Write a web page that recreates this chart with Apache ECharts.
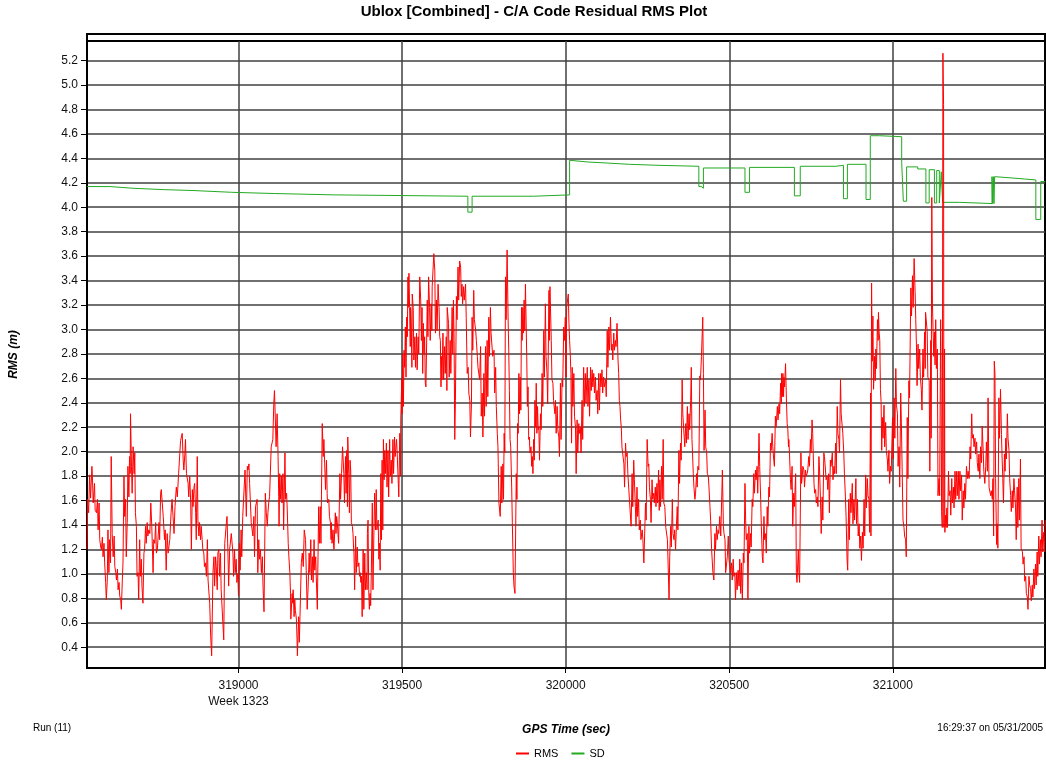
<!DOCTYPE html>
<html>
<head>
<meta charset="utf-8">
<script src="https://cdn.jsdelivr.net/npm/echarts@6/dist/echarts.min.js"></script>
<style>
html,body{margin:0;padding:0;background:#fff;}
#chart{width:1046px;height:765px;}
</style>
</head>
<body>
<div id="chart"></div>
<script>
const titleText = 'Ublox [Combined] - C/A Code Residual RMS Plot';
const yAxisName = 'RMS (m)';
const xAxisName = 'GPS Time (sec)';
const runText = 'Run (11)';
const stampText = '16:29:37 on 05/31/2005';
const weekText = 'Week 1323';
const seriesNames = ['RMS', 'SD'];

const xMin = 318537, xMax = 321465;
const yMin = 0.23, yMax = 5.36;
const xTicks = [319000, 319500, 320000, 320500, 321000];
const yTicks = [0.4,0.6,0.8,1.0,1.2,1.4,1.6,1.8,2.0,2.2,2.4,2.6,2.8,3.0,3.2,3.4,3.6,3.8,4.0,4.2,4.4,4.6,4.8,5.0,5.2];

// SD: step changes [time, value]
const sdSteps = [
[318537,4.169],[318607,4.155],[318678,4.144],[318770,4.136],[318867,4.122],[318979,4.112],
[319111,4.101],[319294,4.090],[319701,3.96],[319714,4.090],[319902,4.101],[320012,4.384],
[320017,4.370],[320068,4.362],[320124,4.351],[320195,4.343],[320282,4.335],[320407,4.17],
[320414,4.155],[320421,4.321],[320548,4.122],[320562,4.326],[320699,4.093],[320717,4.335],
[320826,4.343],[320849,4.07],[320861,4.351],[320918,4.063],[320931,4.585],[320959,4.577],
[321027,4.367],[321032,4.049],[321042,4.330],[321076,4.313],[321101,4.035],[321111,4.307],
[321127,4.035],[321134,4.300],[321142,4.035],[321148,4.29],[321152,4.040],[321203,4.030],
[321303,4.25],[321305,4.03],[321307,4.25],[321309,4.03],[321311,4.25],[321315,4.240],
[321361,4.231],[321402,4.223],[321437,3.90],[321452,4.21],[321466,4.21]
];

// RMS samples [time, value]
const rmsSamples = [
[318537,1.20],[318539,1.61],[318542,1.50],[318545,1.81],[318548,1.62],[318552,1.88],[318554,1.76],[318556,1.58],
[318560,1.74],[318562,1.52],[318566,1.50],[318569,1.61],[318571,1.36],[318574,1.58],[318576,1.28],[318579,1.22],
[318581,1.20],[318584,1.30],[318586,1.14],[318589,1.25],[318591,1.09],[318594,0.93],[318596,0.79],[318599,0.95],
[318601,1.36],[318604,1.01],[318606,1.28],[318609,1.09],[318611,1.96],[318614,1.33],[318617,1.14],[318620,1.31],
[318622,1.06],[318625,1.01],[318627,0.95],[318630,1.04],[318632,0.87],[318635,0.93],[318637,0.82],[318640,0.79],
[318642,0.71],[318645,0.95],[318647,1.09],[318650,1.80],[318652,1.47],[318655,1.61],[318657,1.14],[318660,1.42],
[318662,1.88],[318665,1.63],[318667,1.96],[318669,1.82],[318670,2.31],[318673,1.88],[318675,1.66],[318678,2.04],
[318681,1.82],[318683,1.99],[318685,1.50],[318688,1.39],[318690,0.98],[318693,1.01],[318695,0.79],[318698,1.28],
[318700,0.98],[318703,1.12],[318705,0.90],[318708,0.76],[318711,1.17],[318713,1.20],[318716,1.39],[318718,1.25],
[318721,1.42],[318723,1.31],[318726,1.36],[318729,1.33],[318732,1.58],[318735,1.39],[318739,1.01],[318741,1.28],
[318744,1.25],[318747,1.42],[318749,1.17],[318752,1.20],[318754,1.20],[318757,1.42],[318759,1.28],[318762,1.66],
[318764,1.69],[318767,1.69],[318770,1.47],[318774,1.28],[318776,1.36],[318779,1.03],[318782,1.33],[318785,1.17],
[318788,1.17],[318790,1.28],[318794,1.50],[318797,1.61],[318800,1.47],[318803,1.33],[318806,1.55],[318810,1.71],
[318813,1.63],[318817,1.82],[318820,1.82],[318823,2.09],[318825,2.10],[318828,2.15],[318831,1.93],[318833,1.85],
[318836,1.98],[318838,2.10],[318841,1.82],[318844,1.82],[318846,1.74],[318848,1.63],[318851,1.80],[318854,1.58],
[318856,1.20],[318859,1.69],[318861,1.55],[318864,1.71],[318866,1.74],[318869,1.50],[318871,1.28],[318874,1.96],
[318876,1.44],[318879,1.31],[318881,1.42],[318884,1.28],[318886,1.39],[318889,1.28],[318891,1.20],[318894,1.17],
[318896,1.06],[318899,1.09],[318902,0.98],[318905,1.28],[318907,0.95],[318912,0.76],[318915,0.49],[318918,0.33],
[318922,1.01],[318925,1.14],[318927,0.90],[318930,1.14],[318932,1.06],[318935,0.87],[318937,1.17],[318940,1.20],
[318942,0.98],[318945,1.17],[318947,0.87],[318950,0.87],[318955,0.46],[318958,1.25],[318960,1.25],[318963,1.42],
[318965,1.47],[318968,1.14],[318970,0.90],[318973,1.20],[318975,1.20],[318978,1.33],[318980,1.33],[318983,1.17],
[318985,0.98],[318988,1.20],[318990,1.01],[318993,1.12],[318995,0.93],[318998,1.00],[319000,0.82],[319003,1.25],
[319005,1.03],[319008,1.36],[319010,1.14],[319013,1.47],[319016,1.47],[319020,1.85],[319024,1.47],[319027,1.88],
[319029,1.85],[319032,1.90],[319034,1.74],[319037,1.74],[319039,1.42],[319042,1.42],[319044,1.31],[319047,1.47],
[319049,1.14],[319052,1.55],[319054,1.55],[319057,1.61],[319059,1.01],[319062,1.28],[319064,1.12],[319067,1.20],
[319070,1.01],[319073,1.14],[319075,0.90],[319078,0.69],[319082,1.66],[319085,1.50],[319088,1.39],[319090,1.50],
[319093,1.60],[319095,1.63],[319100,2.04],[319105,2.10],[319108,2.40],[319110,2.50],
[319113,2.50],[319115,2.04],[319118,2.31],[319121,1.96],[319123,1.63],[319124,1.39],[319126,1.82],[319128,1.61],
[319131,1.80],[319133,1.58],[319136,1.82],[319138,1.36],[319142,1.99],[319144,1.61],[319147,1.66],[319149,1.53],
[319152,1.25],[319154,1.14],[319157,1.01],[319159,0.84],[319160,0.63],[319164,0.84],[319166,0.76],[319167,0.87],
[319170,0.65],[319172,0.79],[319174,0.70],[319177,0.63],[319179,0.46],[319180,0.33],[319184,0.65],[319186,0.44],
[319188,0.65],[319192,1.09],[319195,1.17],[319198,1.06],[319201,1.36],[319205,1.28],[319207,1.03],[319210,0.71],
[319213,0.90],[319216,1.17],[319218,1.01],[319221,1.28],[319223,0.95],[319226,1.14],[319228,0.93],[319231,1.28],
[319233,1.03],[319236,1.14],[319238,0.95],[319241,0.71],[319245,1.55],[319247,1.25],[319250,1.55],[319252,1.25],
[319256,2.23],[319259,1.96],[319261,2.10],[319264,2.09],[319266,1.69],[319269,1.93],[319271,1.66],[319272,1.58],
[319276,1.61],[319278,1.47],[319281,1.42],[319283,1.28],[319284,1.42],[319286,1.25],[319289,1.36],[319291,1.22],
[319292,1.20],[319296,1.50],[319298,1.33],[319300,1.47],[319302,1.42],[319304,1.42],[319306,1.25],[319310,1.82],
[319312,1.61],[319315,1.82],[319318,2.04],[319322,1.82],[319324,1.58],[319327,1.96],[319329,1.66],[319331,2.01],
[319333,1.55],[319334,2.12],[319337,1.82],[319339,1.50],[319341,1.93],[319343,1.85],[319345,1.42],[319348,1.39],
[319350,1.33],[319352,1.20],[319353,1.17],[319355,0.87],[319358,1.31],[319360,1.01],[319363,1.22],[319365,1.06],
[319368,1.09],[319370,0.98],[319372,1.01],[319374,0.93],[319376,0.98],[319378,0.65],[319381,1.20],[319383,0.71],
[319386,1.17],[319388,0.87],[319391,1.01],[319393,0.87],[319394,1.33],[319396,1.44],[319398,0.87],[319400,0.71],
[319402,0.84],[319404,0.74],[319406,1.01],[319409,1.58],[319411,0.87],[319414,1.36],[319416,1.66],[319419,1.36],
[319421,1.69],[319423,1.36],[319427,1.44],[319429,1.12],[319431,1.25],[319433,1.03],[319435,1.82],[319437,1.28],
[319439,1.93],[319441,1.36],[319443,2.10],[319445,1.77],[319447,2.01],[319449,1.82],[319452,2.07],[319454,1.71],
[319457,2.01],[319459,1.63],[319462,2.10],[319464,1.80],[319467,1.93],[319469,1.74],[319472,2.10],[319474,1.82],
[319477,2.12],[319479,1.96],[319483,2.10],[319485,1.99],[319488,1.99],[319490,1.63],[319493,2.15],[319495,1.80],
[319496,2.26],[319499,2.59],[319500,2.31],[319502,2.80],[319504,2.37],[319506,2.83],[319508,2.69],[319510,3.02],
[319512,2.61],[319514,3.10],[319516,2.94],[319518,3.43],[319519,3.18],[319521,3.46],[319523,3.18],[319525,2.86],
[319526,3.18],[319528,3.05],[319530,2.69],[319531,3.29],[319534,3.18],[319536,2.75],[319539,2.94],[319541,2.69],
[319544,2.97],[319546,2.67],[319549,2.94],[319551,2.80],[319554,3.43],[319557,3.24],[319559,2.91],[319561,3.18],
[319563,2.64],[319565,3.05],[319567,2.80],[319569,2.94],[319571,2.56],[319573,2.53],[319577,3.24],[319579,2.94],
[319581,3.43],[319584,3.18],[319586,2.91],[319589,3.21],[319591,2.99],[319592,3.35],[319597,3.62],[319600,3.48],
[319602,2.97],[319605,3.24],[319607,2.99],[319610,3.37],[319612,3.24],[319613,3.18],[319615,2.94],[319617,2.91],
[319619,2.53],[319620,2.78],[319622,2.59],[319625,2.97],[319627,2.59],[319630,2.86],[319632,2.64],[319635,2.94],
[319637,2.50],[319638,3.18],[319642,3.05],[319644,2.61],[319647,2.91],[319649,2.64],[319653,3.18],[319655,2.80],
[319657,3.24],[319659,2.91],[319661,2.10],[319663,2.42],[319666,3.27],[319668,3.08],[319671,3.51],[319673,3.24],
[319676,3.56],[319679,3.51],[319681,3.27],[319683,3.37],[319685,3.21],[319688,3.35],[319690,3.24],
[319694,3.37],[319696,3.10],[319699,2.64],[319702,2.69],[319704,2.48],[319707,2.42],[319709,2.12],[319712,2.39],
[319714,3.10],[319716,2.83],[319719,3.32],[319721,3.08],[319725,2.99],[319727,2.91],[319730,2.78],[319732,2.69],
[319735,2.69],[319737,2.59],[319740,2.86],[319742,2.29],[319745,2.48],[319747,2.12],[319750,2.64],[319752,2.29],
[319755,2.86],[319757,2.37],[319760,2.91],[319762,2.45],[319765,3.10],[319767,2.78],[319770,3.18],[319772,2.97],
[319775,2.97],[319777,2.78],[319781,2.83],[319783,2.48],[319786,2.69],[319788,2.37],[319791,2.15],[319793,2.04],
[319794,1.90],[319796,1.58],[319798,1.58],[319800,1.47],[319803,1.88],[319805,1.58],[319808,1.90],[319810,1.61],
[319812,2.15],[319814,1.99],[319816,3.43],[319818,3.08],[319821,3.65],[319824,3.10],[319826,2.83],[319828,2.50],
[319830,2.10],[319832,2.04],[319835,1.71],[319837,1.42],[319840,1.01],[319842,0.90],[319845,0.84],[319849,1.82],
[319851,1.61],[319853,2.23],[319855,2.15],[319857,2.64],[319859,2.31],[319861,2.61],[319863,2.34],[319865,3.18],
[319867,2.91],[319869,3.18],[319871,2.97],[319873,3.24],[319875,2.99],[319877,3.37],[319881,2.78],[319883,2.37],
[319885,2.53],[319887,2.10],[319889,2.12],[319891,1.99],[319894,2.04],[319896,1.88],[319898,1.96],[319900,1.82],
[319902,2.10],[319904,1.93],[319906,2.42],[319908,2.20],[319910,2.56],[319912,2.15],[319914,2.37],[319916,2.18],
[319918,2.20],[319920,1.93],[319923,2.31],[319925,2.18],[319928,2.64],[319930,2.37],[319933,2.99],[319935,2.61],
[319938,3.21],[319940,2.78],[319943,2.64],[319945,2.39],[319949,3.32],[319950,2.91],[319952,3.35],[319956,2.91],
[319958,2.59],[319961,2.56],[319963,2.42],[319965,2.42],[319967,2.31],[319969,2.42],[319971,2.15],[319974,2.37],
[319976,2.18],[319979,2.12],[319981,1.96],[319984,2.56],[319986,2.10],[319989,2.59],[319991,2.53],[319994,3.02],
[319996,2.91],[319999,3.10],[320001,2.61],[320003,3.18],[320008,3.29],[320010,3.05],[320012,2.91],[320014,2.80],
[320016,2.64],[320018,2.07],[320020,2.69],[320022,2.37],[320025,2.64],[320027,2.29],[320030,2.20],[320032,1.82],
[320035,2.26],[320037,1.99],[320040,2.23],[320042,2.15],[320045,2.20],[320047,1.99],[320050,2.42],[320052,2.10],
[320055,2.69],[320057,2.37],[320060,2.64],[320062,2.40],[320066,2.69],[320068,2.37],[320071,2.59],[320073,2.29],
[320076,2.69],[320078,2.50],[320081,2.67],[320083,2.53],[320086,2.64],[320088,2.48],[320091,2.61],[320093,2.42],
[320096,2.50],[320098,2.31],[320101,2.64],[320103,2.34],[320106,2.64],[320108,2.53],[320111,2.67],[320113,2.48],
[320116,2.61],[320118,2.53],[320122,2.59],[320124,2.45],[320127,2.99],[320129,2.69],[320132,3.02],[320134,2.83],
[320137,3.10],[320140,2.83],[320142,2.88],[320144,2.75],[320147,2.97],[320149,2.83],[320152,2.91],[320154,2.86],
[320157,3.05],[320160,2.75],[320162,2.64],[320164,2.42],[320166,2.37],[320168,2.26],[320170,2.20],[320172,2.04],
[320174,1.99],[320178,1.90],[320180,1.71],[320183,2.07],[320185,1.96],[320188,1.99],[320190,1.82],[320193,1.69],
[320195,1.60],[320198,1.61],[320200,1.39],[320203,1.82],[320205,1.55],[320208,1.93],[320210,1.77],[320213,1.55],
[320215,1.39],[320218,1.71],[320220,1.47],[320223,1.61],[320225,1.36],[320228,1.44],[320230,1.28],[320234,1.36],
[320236,1.28],[320239,1.09],[320244,1.58],[320246,1.44],[320249,2.10],[320252,1.88],[320254,1.90],[320256,1.71],
[320259,1.61],[320261,1.42],[320264,1.77],[320266,1.61],[320269,1.66],[320271,1.58],[320274,1.71],[320276,1.55],
[320279,1.74],[320281,1.58],[320284,1.85],[320286,1.52],
[320288,1.77],[320290,1.55],[320293,1.88],[320295,1.61],[320298,2.10],[320300,1.58],[320303,1.55],[320306,1.38],
[320308,1.39],[320311,1.28],[320316,0.79],[320318,1.14],[320321,1.39],[320323,1.22],[320326,1.61],[320328,1.33],
[320331,1.28],[320333,1.36],[320336,1.20],[320338,1.36],[320341,1.55],[320343,1.36],[320346,2.01],[320348,1.74],
[320351,2.07],[320353,1.93],[320356,2.59],[320358,2.31],[320362,2.31],[320364,2.04],[320367,2.23],[320369,2.07],
[320372,2.37],[320374,2.10],[320377,2.31],[320379,2.18],[320382,2.42],[320384,2.69],[320386,2.10],[320387,2.04],
[320390,1.82],[320392,1.71],[320395,1.61],[320397,1.66],[320400,1.82],[320402,1.71],[320404,1.88],[320407,1.85],
[320410,2.62],[320412,2.59],[320415,2.78],[320419,3.10],[320421,2.64],[320423,2.01],[320426,2.34],[320428,2.04],
[320431,1.99],[320433,1.82],[320436,1.80],[320438,1.71],[320441,1.55],[320443,1.44],[320446,1.20],[320448,1.20],
[320450,1.01],[320453,0.95],[320456,1.33],[320458,1.20],[320461,1.39],[320463,1.28],[320466,1.36],[320468,1.33],
[320471,1.47],[320474,1.31],[320479,1.85],[320482,1.39],[320484,1.33],[320487,1.28],[320489,1.01],[320492,1.09],
[320494,1.14],[320497,1.31],[320499,1.12],[320502,1.12],[320504,1.01],[320507,1.09],[320509,0.95],[320512,1.12],
[320514,0.98],[320517,1.01],[320519,0.79],[320522,1.01],[320524,0.87],[320527,1.03],[320530,0.90],[320532,1.12],
[320535,0.84],[320537,1.09],[320540,0.79],[320543,1.17],[320545,1.09],[320548,1.74],[320550,1.44],[320552,1.28],
[320555,1.33],[320557,0.79],[320560,1.39],[320562,1.17],[320565,1.33],[320567,1.22],[320570,1.61],[320572,1.55],
[320575,1.82],[320577,1.66],[320580,1.85],[320582,1.77],[320585,1.88],[320587,1.66],[320591,2.15],[320593,1.88],
[320596,1.61],[320598,1.39],[320601,1.14],[320603,1.09],[320606,1.47],[320608,1.28],[320611,1.33],[320613,1.17],
[320616,1.55],[320618,1.39],[320621,1.71],[320623,1.63],[320626,2.07],[320628,2.01],[320631,2.15],[320633,2.04],
[320636,1.93],[320638,1.88],[320641,2.29],[320643,2.20],[320647,2.37],[320649,2.26],[320652,2.39],[320654,2.31],
[320657,2.56],[320659,2.39],[320660,2.64],[320662,2.45],[320664,2.64],[320666,2.45],[320667,2.61],[320669,2.53],
[320672,2.72],[320675,2.39],[320677,2.23],[320679,2.18],[320681,2.04],[320682,2.10],[320684,1.99],[320687,1.77],
[320689,1.69],[320692,1.88],[320694,1.39],[320697,1.66],[320699,1.55],[320703,1.82],[320705,1.01],[320707,0.93],
[320709,0.92],[320711,1.20],[320713,1.01],[320715,0.93],[320719,1.99],[320721,1.74],[320723,1.80],[320725,1.88],
[320728,1.85],[320730,1.71],[320733,1.85],[320735,1.80],[320738,1.82],[320740,1.85],[320743,1.96],[320745,1.88],
[320748,2.10],[320750,1.99],[320753,2.26],[320755,2.15],[320759,1.74],[320761,1.66],[320764,1.69],[320766,1.58],
[320769,1.63],[320771,1.55],[320774,1.96],[320776,1.85],[320779,1.58],[320781,1.33],[320784,1.63],[320786,1.44],
[320789,1.99],[320791,1.96],[320794,1.85],[320796,1.77],[320799,1.80],[320801,1.69],[320804,1.82],[320806,1.50],
[320809,1.93],[320811,1.88],[320815,1.99],[320817,1.77],[320820,1.88],[320822,1.82],[320825,2.07],[320827,1.82],
[320830,2.37],[320832,2.15],[320835,2.10],[320837,1.99],[320840,2.59],[320842,2.31],[320845,2.31],[320847,2.15],
[320850,1.99],[320852,1.82],[320855,1.63],[320857,1.47],[320860,1.12],[320862,1.03],[320865,1.61],[320867,1.28],
[320870,1.66],[320872,1.50],
[320876,1.74],[320878,1.41],[320881,1.61],[320883,1.44],[320887,1.78],[320889,1.41],[320892,1.61],[320894,1.31],
[320897,1.41],[320899,1.21],[320902,1.31],[320904,1.11],[320907,1.34],[320909,1.21],[320912,1.61],[320914,1.31],
[320917,1.81],[320919,1.54],[320922,1.78],[320924,1.64],[320927,1.61],[320929,1.34],[320932,2.48],[320933,1.31],
[320935,3.38],[320937,2.74],[320939,3.11],[320941,2.51],[320944,2.78],[320946,2.58],[320948,2.84],[320950,2.68],
[320953,3.08],[320955,2.91],[320956,3.14],[320958,2.98],[320960,2.91],[320962,2.51],[320964,2.41],[320966,2.01],
[320968,2.28],[320970,2.11],[320973,2.38],[320975,2.04],[320978,2.24],[320980,2.01],[320983,1.94],[320985,1.84],
[320988,2.01],[320990,1.74],[320993,1.88],[320995,1.84],[320999,2.28],[321001,1.94],[321004,2.44],[321006,2.11],
[321009,2.68],[321011,2.38],[321014,2.31],[321016,1.88],[321019,2.04],[321021,1.71],[321024,2.48],[321026,2.24],
[321029,2.24],[321031,1.44],[321034,1.38],[321036,1.31],[321039,1.28],[321041,1.14],[321044,2.28],[321046,1.78],
[321049,2.58],[321051,2.44],[321055,3.34],[321057,3.11],[321060,3.44],[321062,3.18],[321065,3.58],[321068,3.31],
[321070,3.08],[321072,2.88],[321074,2.54],[321077,2.88],[321079,2.68],[321082,2.84],[321084,2.61],[321087,2.51],
[321089,2.34],[321092,2.84],[321094,2.61],[321097,2.98],[321099,2.68],[321100,3.14],[321105,2.98],[321107,2.61],
[321111,2.58],[321113,1.84],[321116,2.91],[321117,2.11],[321119,4.08],[321121,3.21],[321123,2.98],[321125,2.78],
[321127,2.98],[321129,2.71],[321131,3.08],[321133,2.68],[321136,2.84],[321138,1.64],[321141,1.78],[321143,1.64],
[321146,3.08],[321147,2.84],[321149,1.51],[321151,1.38],[321153,5.26],[321155,4.84],[321156,1.38],[321158,2.84],
[321159,1.34],[321161,1.48],[321163,1.38],[321165,1.54],[321167,1.38],[321170,1.84],[321172,1.64],[321175,1.68],
[321177,1.48],[321180,1.78],[321182,1.58],[321185,1.71],[321187,1.54],[321190,1.84],[321192,1.61],[321195,1.84],
[321197,1.64],[321200,1.84],[321202,1.61],[321205,1.84],[321207,1.68],[321210,1.81],[321212,1.44],[321215,1.68],
[321217,1.54],[321220,1.74],[321222,1.61],[321225,1.88],[321228,1.78],[321230,1.84],[321233,1.78],[321236,2.04],
[321238,1.94],[321241,2.31],[321243,2.11],[321246,2.14],[321248,2.04],[321251,2.11],[321253,1.98],[321256,2.08],
[321258,1.91],[321261,1.84],[321263,1.98],[321266,1.78],[321268,2.04],[321271,1.91],[321273,2.21],[321276,2.01],
[321278,1.84],[321281,1.74],[321284,1.88],[321286,2.08],[321289,1.84],[321291,2.44],[321294,1.71],[321297,1.71],
[321299,1.64],[321301,1.68],[321304,1.61],[321306,1.78],[321308,1.31],[321310,2.74],[321312,2.64],[321314,1.78],
[321317,1.24],[321319,1.41],[321321,1.21],[321324,2.44],[321326,2.11],[321329,2.51],[321332,2.14],[321334,1.94],
[321336,1.78],[321338,1.58],[321341,1.98],[321343,1.84],[321345,2.11],[321347,1.94],[321350,2.31],[321352,2.11],
[321355,2.01],[321357,1.78],[321360,1.64],[321362,1.51],[321365,1.68],[321367,1.54],[321370,1.78],[321372,1.68],
[321375,1.54],[321377,1.28],[321380,1.71],[321382,1.38],[321385,1.78],[321387,1.44],[321390,1.94],[321392,1.21],
[321396,1.18],[321398,1.08],[321401,1.14],[321403,0.94],[321406,0.98],[321408,0.84],[321411,0.81],[321413,0.71],
[321416,0.98],[321418,0.91],[321421,0.88],[321423,0.78],[321426,0.91],[321428,0.81],[321431,1.04],[321433,0.88],
[321436,1.08],[321438,0.91],[321441,1.18],[321443,0.98],[321446,1.31],[321448,1.08],[321451,1.28],[321453,1.14],
[321456,1.44],[321458,1.18],[321461,1.34],[321463,1.18],[321466,1.44]
];

const FONT = 'Liberation Sans, Arial, sans-serif';
const chart = echarts.init(document.getElementById('chart'), null, {renderer: 'canvas'});
const gridLeft = 87, gridRight = 1046 - 1045, gridTop = 41, gridBottom = 765 - 668;

chart.setOption({
  animation: false,
  backgroundColor: '#ffffff',
  textStyle: {fontFamily: FONT},
  grid: {left: gridLeft, right: gridRight, top: gridTop, bottom: gridBottom,
         show: true, borderColor: '#000', borderWidth: 2, backgroundColor: 'transparent'},
  legend: {
    data: seriesNames, left: 516, top: 748, icon: 'rect', itemWidth: 13, itemHeight: 2,
    itemGap: 13, textStyle: {fontFamily: FONT, fontSize: 11, color: '#000'}, padding: 0
  },
  xAxis: {
    type: 'value', min: xMin, max: xMax,
    name: xAxisName, nameLocation: 'middle', nameGap: 56,
    nameTextStyle: {fontFamily: FONT, fontSize: 12, fontWeight: 'bold', fontStyle: 'italic', color: '#000'},
    axisLine: {show: true, lineStyle: {color: '#000', width: 2}},
    axisTick: {show: true, inside: false, length: 5, customValues: xTicks, lineStyle: {color: '#000'}},
    axisLabel: {customValues: xTicks, margin: 10, fontFamily: FONT, fontSize: 12, color: '#111', lineHeight: 16,
      formatter: v => (v === 319000 ? String(v) + '\n' + weekText : String(v))},
    splitLine: {show: true, lineStyle: {color: '#404040', width: 1.5}}
  },
  yAxis: {
    type: 'value', min: yMin, max: yMax,
    name: yAxisName, nameLocation: 'middle', nameGap: 67, nameRotate: 90,
    nameTextStyle: {fontFamily: FONT, fontSize: 12, fontWeight: 'bold', fontStyle: 'italic', color: '#000'},
    axisLine: {show: true, lineStyle: {color: '#000', width: 2}},
    axisTick: {show: true, inside: false, length: 6, customValues: yTicks, lineStyle: {color: '#000'}},
    axisLabel: {customValues: yTicks, margin: 9, fontFamily: FONT, fontSize: 12, color: '#111',
      formatter: v => v.toFixed(1)},
    splitLine: {show: true, lineStyle: {color: '#404040', width: 1.5}}
  },
  graphic: [
    {type: 'text', x: 534, y: 12, style: {text: titleText, font: 'bold 15px ' + FONT, fill: '#000',
      textAlign: 'center', textVerticalAlign: 'middle'}},
    {type: 'text', x: 33, y: 728, style: {text: runText, font: '10px ' + FONT, fill: '#000',
      textAlign: 'left', textVerticalAlign: 'middle'}},
    {type: 'text', x: 1043, y: 728, style: {text: stampText, font: '10px ' + FONT, fill: '#000',
      textAlign: 'right', textVerticalAlign: 'middle'}},
    {type: 'polyline', shape: {points: [[87, 41], [87, 34], [1045, 34], [1045, 41]]},
      style: {stroke: '#000', lineWidth: 2, fill: null}}
  ],
  series: [
    {name: 'SD', type: 'line', data: sdSteps, step: 'end', showSymbol: false, symbol: 'none',
     lineStyle: {color: '#22aa22', width: 1}, itemStyle: {color: '#22aa22'}, z: 2},
    {name: 'RMS', type: 'line', data: rmsSamples, showSymbol: false, symbol: 'none',
     lineStyle: {color: '#ff0000', width: 1}, itemStyle: {color: '#ff0000'}, z: 3}
  ]
});
</script>
</body>
</html>
